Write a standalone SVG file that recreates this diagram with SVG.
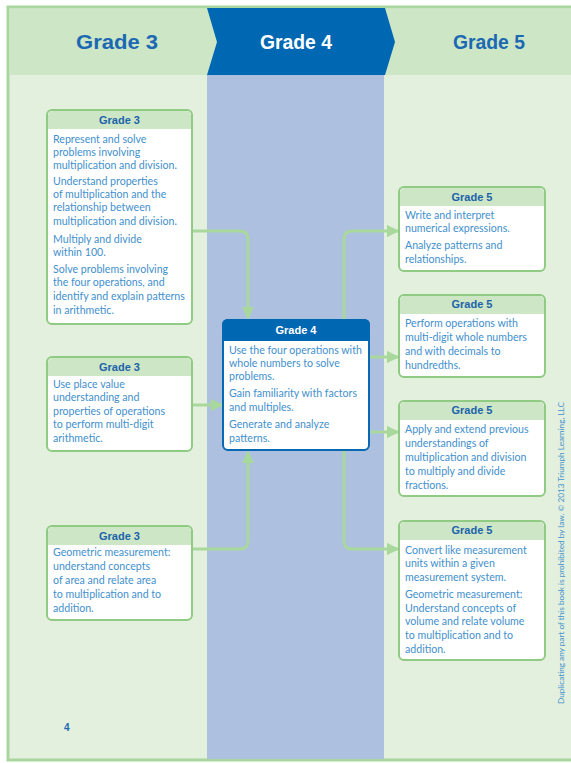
<svg xmlns="http://www.w3.org/2000/svg" width="571" height="763" viewBox="0 0 571 763">
<defs>
<style>
.t{font-family:Lato,"Liberation Sans",sans-serif;font-size:10.6px;fill:#4290cd}
.h{font-family:"Liberation Sans",Arial,sans-serif;font-weight:bold;font-size:11px;fill:#1b62ab;text-anchor:middle}
.big{font-family:"Liberation Sans",Arial,sans-serif;font-weight:bold;font-size:20px;fill:#1b68b3;text-anchor:middle}
.box{fill:#ffffff;stroke:#8fcb82;stroke-width:2}
.hb{fill:#cde6c5}
.c{fill:none;stroke:#a8d89c;stroke-width:3;stroke-linejoin:round}
</style>
<marker id="ar" viewBox="0 0 10 10" refX="9" refY="5" markerWidth="4.2" markerHeight="4.2" markerUnits="strokeWidth" orient="auto">
<path d="M0,0 L10,5 L0,10 Z" fill="#a8d89c"/>
</marker>
</defs>
<rect x="0" y="0" width="571" height="763" fill="#ffffff"/>
<g id="background">
<rect x="8" y="7" width="565" height="753" fill="#e4f0de" stroke="#a9d69e" stroke-width="3"/>
<rect x="9.5" y="8.5" width="563" height="66.5" fill="#cde6c5"/>
<rect x="207" y="75" width="177" height="684" fill="#adc0e0"/>
<polygon points="207,8 385,8 395,42 385,75 207,75 217,42" fill="#0067b2"/>
<text class="big" x="117" y="49" textLength="82" lengthAdjust="spacingAndGlyphs">Grade 3</text>
<text class="big" x="296" y="49" textLength="72" lengthAdjust="spacingAndGlyphs" style="fill:#ffffff">Grade 4</text>
<text class="big" x="489" y="49" textLength="72" lengthAdjust="spacingAndGlyphs">Grade 5</text>
<text x="64" y="731" style="font-family:'Liberation Sans',Arial,sans-serif;font-weight:bold;font-size:10px;fill:#1b68b3">4</text>
<text transform="translate(564,553) rotate(-90)" text-anchor="middle" textLength="302" lengthAdjust="spacingAndGlyphs" style="font-family:Lato,'Liberation Sans',sans-serif;font-size:6.8px;fill:#4290cd">Duplicating any part of this book is prohibited by law. © 2013 Triumph Learning, LLC</text>
</g>
<g id="connectors">
<path class="c" d="M192,231 H240 Q248,231 248,239 V318" marker-end="url(#ar)"/>
<path class="c" d="M192,405 H222" marker-end="url(#ar)"/>
<path class="c" d="M192,549 H240 Q248,549 248,541 V452" marker-end="url(#ar)"/>
<path class="c" d="M344,320 V239 Q344,231 352,231 H398" marker-end="url(#ar)"/>
<path class="c" d="M369,357 H398" marker-end="url(#ar)"/>
<path class="c" d="M369,432 H398" marker-end="url(#ar)"/>
<path class="c" d="M344,450 V541 Q344,549 352,549 H398" marker-end="url(#ar)"/>
</g>
<g id="g3a">
<rect class="box" x="47" y="110" width="145" height="214" rx="5"/>
<path class="hb" d="M48,129 V116 Q48,111 53,111 H186 Q191,111 191,116 V129 Z"/>
<text class="h" x="119.5" y="124">Grade 3</text>
<text class="t" x="53" y="143">Represent and solve</text>
<text class="t" x="53" y="156">problems involving</text>
<text class="t" x="53" y="169">multiplication and division.</text>
<text class="t" x="53" y="185">Understand properties</text>
<text class="t" x="53" y="198">of multiplication and the</text>
<text class="t" x="53" y="211">relationship between</text>
<text class="t" x="53" y="225">multiplication and division.</text>
<text class="t" x="53" y="243">Multiply and divide</text>
<text class="t" x="53" y="256">within 100.</text>
<text class="t" x="53" y="273">Solve problems involving</text>
<text class="t" x="53" y="286">the four operations, and</text>
<text class="t" x="53" y="300">identify and explain patterns</text>
<text class="t" x="53" y="314">in arithmetic.</text>
</g>
<g id="g3b">
<rect class="box" x="47" y="357" width="145" height="94" rx="5"/>
<path class="hb" d="M48,376 V363 Q48,358 53,358 H186 Q191,358 191,363 V376 Z"/>
<text class="h" x="119.5" y="371">Grade 3</text>
<text class="t" x="53" y="388">Use place value</text>
<text class="t" x="53" y="401">understanding and</text>
<text class="t" x="53" y="415">properties of operations</text>
<text class="t" x="53" y="428">to perform multi-digit</text>
<text class="t" x="53" y="442">arithmetic.</text>
</g>
<g id="g3c">
<rect class="box" x="47" y="526" width="145" height="94" rx="5"/>
<path class="hb" d="M48,545 V532 Q48,527 53,527 H186 Q191,527 191,532 V545 Z"/>
<text class="h" x="119.5" y="540">Grade 3</text>
<text class="t" x="53" y="556">Geometric measurement:</text>
<text class="t" x="53" y="570">understand concepts</text>
<text class="t" x="53" y="584">of area and relate area</text>
<text class="t" x="53" y="598">to multiplication and to</text>
<text class="t" x="53" y="612">addition.</text>
</g>
<g id="g4">
<rect x="223" y="320" width="146" height="130" rx="5" fill="#ffffff" stroke="#0a67b2" stroke-width="2"/>
<path d="M222,341 V325 Q222,319 228,319 H364 Q370,319 370,325 V341 Z" fill="#0067b2"/>
<text class="h" x="296" y="334" style="fill:#ffffff">Grade 4</text>
<text class="t" x="229" y="354">Use the four operations with</text>
<text class="t" x="229" y="367">whole numbers to solve</text>
<text class="t" x="229" y="380">problems.</text>
<text class="t" x="229" y="397">Gain familiarity with factors</text>
<text class="t" x="229" y="411">and multiples.</text>
<text class="t" x="229" y="428">Generate and analyze</text>
<text class="t" x="229" y="442">patterns.</text>
</g>
<g id="g5a">
<rect class="box" x="399" y="187" width="146" height="84" rx="5"/>
<path class="hb" d="M400,206 V193 Q400,188 405,188 H539 Q544,188 544,193 V206 Z"/>
<text class="h" x="472" y="201">Grade 5</text>
<text class="t" x="405" y="219">Write and interpret</text>
<text class="t" x="405" y="232">numerical expressions.</text>
<text class="t" x="405" y="249">Analyze patterns and</text>
<text class="t" x="405" y="263">relationships.</text>
</g>
<g id="g5b">
<rect class="box" x="399" y="295" width="146" height="82" rx="5"/>
<path class="hb" d="M400,314 V301 Q400,296 405,296 H539 Q544,296 544,301 V314 Z"/>
<text class="h" x="472" y="308">Grade 5</text>
<text class="t" x="405" y="327">Perform operations with</text>
<text class="t" x="405" y="341">multi-digit whole numbers</text>
<text class="t" x="405" y="355">and with decimals to</text>
<text class="t" x="405" y="369">hundredths.</text>
</g>
<g id="g5c">
<rect class="box" x="399" y="401" width="146" height="95" rx="5"/>
<path class="hb" d="M400,420 V407 Q400,402 405,402 H539 Q544,402 544,407 V420 Z"/>
<text class="h" x="472" y="414">Grade 5</text>
<text class="t" x="405" y="433">Apply and extend previous</text>
<text class="t" x="405" y="447">understandings of</text>
<text class="t" x="405" y="461">multiplication and division</text>
<text class="t" x="405" y="475">to multiply and divide</text>
<text class="t" x="405" y="489">fractions.</text>
</g>
<g id="g5d">
<rect class="box" x="399" y="521" width="146" height="139" rx="5"/>
<path class="hb" d="M400,540 V527 Q400,522 405,522 H539 Q544,522 544,527 V540 Z"/>
<text class="h" x="472" y="534">Grade 5</text>
<text class="t" x="405" y="554">Convert like measurement</text>
<text class="t" x="405" y="567">units within a given</text>
<text class="t" x="405" y="581">measurement system.</text>
<text class="t" x="405" y="598">Geometric measurement:</text>
<text class="t" x="405" y="612">Understand concepts of</text>
<text class="t" x="405" y="625">volume and relate volume</text>
<text class="t" x="405" y="639">to multiplication and to</text>
<text class="t" x="405" y="653">addition.</text>
</g>
</svg>
